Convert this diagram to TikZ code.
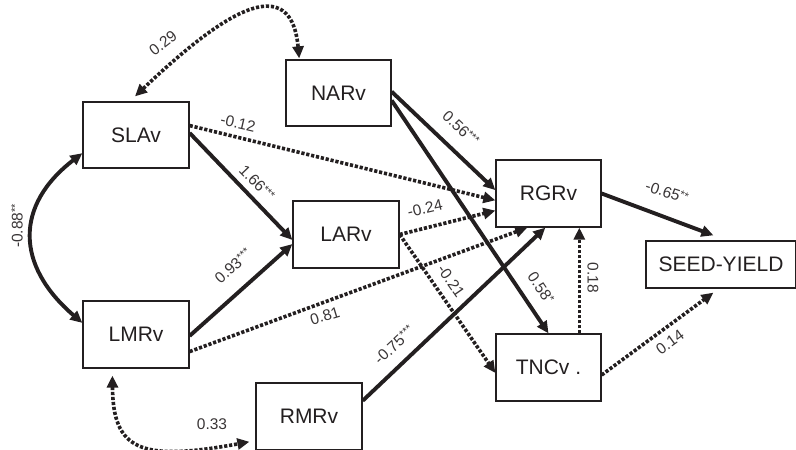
\documentclass[tikz,border=0pt]{standalone}
\usepackage{fontspec}
\setmainfont{Liberation Sans}
\usetikzlibrary{arrows.meta,calc}
\definecolor{ink}{HTML}{231F20}
\newcommand{\sig}[1]{\raisebox{0.45ex}{\fontsize{11}{11}\selectfont #1}}
\begin{document}
\begin{tikzpicture}[x=1pt,y=-1pt,
  >={Triangle[length=12pt,width=11pt]},
  box/.style={draw=ink,line width=1.3pt,minimum width=106pt,minimum height=67pt,inner sep=0pt,font=\fontsize{21}{24}\selectfont,text=ink},
  lab/.style={font=\fontsize{15.5}{17}\selectfont,text=ink!90,inner sep=0pt},
  solidarr/.style={line width=3.9pt,draw=ink,->},
  dasharr/.style={line width=3.6pt,draw=ink,dash pattern=on 3.2pt off 1.8pt,->},
]
\useasboundingbox (0,0) rectangle (796,450);

% boxes
\node[box,minimum height=66pt] (SLA) at (136,135) {SLAv};
\node[box,minimum width=105pt,minimum height=66pt] (NAR) at (338.5,93) {NARv};
\node[box] (LAR) at (346,234.5) {LARv};
\node[box] (LMR) at (136,334.5) {LMRv};
\node[box] (RMR) at (309,416.5) {RMRv};
\node[box,minimum width=105pt] (RGR) at (548.5,193.5) {RGRv};
\node[box,minimum width=105pt] (TNC) at (548.5,367.5) {TNCv .};
\node[box,minimum width=150pt,minimum height=47pt] (SEED) at (721,264.5) {SEED-YIELD};

% connectors
\draw[dasharr,<->] ($(SLA.north)+(-1,-5)$) .. controls (205,30) and (290,-40) .. ($(NAR.north west)!0.13!(NAR.north east)+(0,-1)$);
\draw[solidarr,<->] ($(SLA.north west)!0.77!(SLA.south west)$) .. controls (15,205) and (15,265) .. ($(LMR.north west)!0.33!(LMR.south west)$);
\draw[dasharr,<->] ($(LMR.south west)!0.28!(LMR.south east)+(0,7)$) .. controls (113,450) and (140,462) .. ($(RMR.north west)!0.87!(RMR.south west)+(-6,0)$);

\draw[dasharr] ($(SLA.north east)!0.36!(SLA.south east)$) -- ($(RGR.north west)!0.60!(RGR.south west)$);
\draw[solidarr] ($(SLA.north east)!0.47!(SLA.south east)$) -- ($(LAR.north west)!0.58!(LAR.south west)$);
\draw[solidarr] ($(NAR.north east)!0.48!(NAR.south east)$) -- ($(RGR.north west)!0.45!(RGR.south west)$);
\draw[solidarr] ($(NAR.north east)!0.61!(NAR.south east)$) -- (TNC.north);
\draw[dasharr] (LAR.east) -- ($(RGR.north west)!0.75!(RGR.south west)$);
\draw[dasharr] (LAR.east) -- ($(TNC.north west)!0.58!(TNC.south west)$);
\draw[solidarr] ($(LMR.north east)!0.52!(LMR.south east)$) -- ($(LAR.north west)!0.64!(LAR.south west)$);
\draw[dasharr] ($(LMR.north east)!0.75!(LMR.south east)$) -- ($(RGR.south west)!0.30!(RGR.south east)$);
\draw[solidarr] ($(RMR.north east)!0.27!(RMR.south east)$) -- ($(RGR.south west)!0.47!(RGR.south east)$);
\draw[dasharr] ($(TNC.north west)!0.79!(TNC.north east)$) -- ($(RGR.south west)!0.79!(RGR.south east)$);
\draw[solidarr] (RGR.east) -- ($(SEED.north west)!0.45!(SEED.north east)+(0,-5)$);
\draw[dasharr] ($(TNC.north east)!0.61!(TNC.south east)$) -- ($(SEED.south west)!0.45!(SEED.south east)+(0,4)$);

% labels
\node[lab,rotate=38] (l029) at (163,43) {0.29};
\node[lab,rotate=90] (l088) at (17,226) {-0.88\sig{**}};
\node[lab] (l033) at (212,424) {0.33};
\node[lab,rotate=-13] (l012) at (238,123) {-0.12};
\node[lab,rotate=-46] (l166) at (257,183) {1.66\sig{***}};
\node[lab,rotate=42] (l093) at (233,266) {0.93\sig{***}};
\node[lab,rotate=17] (l081) at (325,316) {0.81};
\node[lab,rotate=43] (l075) at (394,345) {-0.75\sig{***}};
\node[lab,rotate=-43] (l056) at (461,128) {0.56\sig{***}};
\node[lab,rotate=-56] (l058) at (541,288) {0.58\sig{*}};
\node[lab,rotate=13] (l024) at (425,208) {-0.24};
\node[lab,rotate=-55] (l021) at (451,281) {-0.21};
\node[lab,rotate=-90] (l018) at (593,278) {0.18};
\node[lab,rotate=-18] (l065) at (667,192) {-0.65\sig{**}};
\node[lab,rotate=36] (l014) at (670,342) {0.14};
\end{tikzpicture}
\end{document}
